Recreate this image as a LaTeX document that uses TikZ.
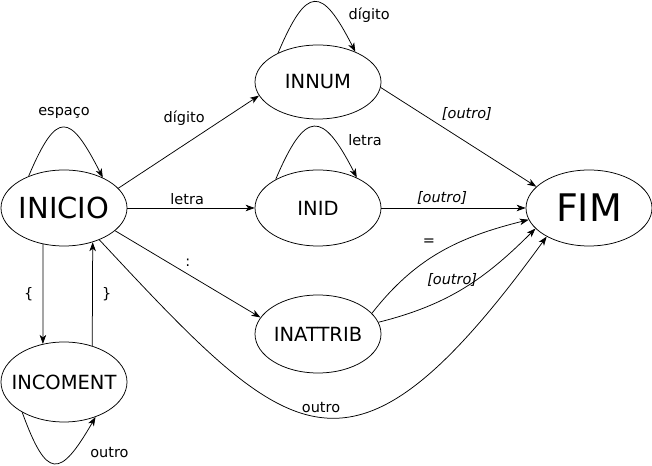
\documentclass[tikz,border=0pt]{standalone}
\usepackage{fontspec}
\setmainfont{DejaVu Sans}
\usepackage{tikz}
\usetikzlibrary{arrows.meta,
  positioning,
  shapes.geometric}

\begin{document}
\begin{tikzpicture}[x=1pt,y=1pt,
    >={Stealth[length=9pt,width=6.5pt,inset=2.5pt]},
    every path/.style={line width=0.75pt},
    font=\fontsize{14.5}{17}\selectfont,
    estado/.style={ellipse, draw, inner xsep=-12pt, inner ysep=0pt,
      minimum width=126pt, minimum height=76pt,
      font=\fontsize{19.5}{23}\selectfont},
    senao/.style={font=\fontsize{14.5}{17}\selectfont\itshape}]

      \useasboundingbox (0,0) rectangle (652,465);

      % States
      \node [estado, font=\fontsize{29}{34}\selectfont] (inicio) at (64,257) {INICIO};
      \node [estado, minimum height=80pt] (incoment) at (64,83) {INCOMENT};
      \node [estado, minimum height=74pt] (innum) at (318,383) {INNUM};
      \node [estado] (inid) at (318,257) {INID};
      \node [estado, minimum height=78pt] (inattrib) at (318,131) {INATTRIB};
      \node [estado, font=\fontsize{38}{44}\selectfont] (fim) at (589,257) {FIM};

      % Loops:
      % Each one leaves the top (or bottom) of its state and comes back to it
      \draw [->] (inicio.138) to [out=67,in=117,looseness=2.5] node [above=5pt] {espaço} (inicio.38);
      \draw [->] (innum.144) to [out=67,in=117,looseness=2.45] node [pos=0.76,right=11pt] {dígito} (innum.39);
      \draw [->] (inid.146) to [out=67,in=117,looseness=2.4] node [pos=0.76,right=10pt] {letra} (inid.38);
      \draw [->] (incoment.216) to [out=-70,in=-120,looseness=2.5] node [pos=0.74,right=15pt] {outro} (incoment.312);

      % Transitions out of INICIO
      \draw [->] (inicio.20) -- (innum.193) node [pos=0.64,above left] {dígito};
      \draw [->] (inicio) -- (inid) node [pos=0.47,above] {letra};
      \draw [->] (inicio.336) -- (inattrib.164) node [midway,above=4pt] {:};
      \draw [->] (inicio.240) -- (incoment.119) node [midway,left=6pt] {\{};
      \draw [->] (incoment.52) -- (inicio.310) node [midway,right=6pt] {\}};
      \draw [->] (inicio.318) .. controls +(-47:281) and +(234:335) .. (fim.214) node [pos=0.5,above] {outro};

      % Transitions into FIM
      \draw [->] (innum.355) -- (fim.158) node [pos=0.37,above right,senao] {[outro]};
      \draw [->] (inid) -- (fim) node [pos=0.42,above,senao] {[outro]};
      \draw [->] (inattrib.21) to [out=52,in=194] node [pos=0.42,above=10pt] {=} (fim.191);
      \draw [->] (inattrib.11) to [out=14,in=225] node [pos=0.42,above=5pt,senao] {[outro]} (fim.201);
    \end{tikzpicture}
\end{document}
